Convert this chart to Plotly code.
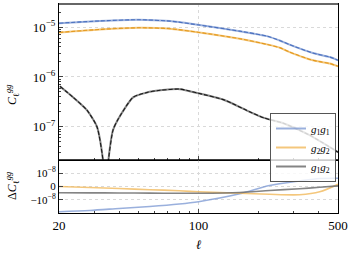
import numpy as np
import plotly.graph_objects as go

# ---------------- data ----------------
ell_auto = [20, 32, 50, 72, 101, 161, 220, 255, 286, 374, 455, 500]
cl_g1g1 = [1.20e-5, 1.33e-5, 1.41e-5, 1.32e-5, 1.10e-5, 8.3e-6, 6.6e-6, 5.4e-6, 4.45e-6, 3.02e-6, 2.51e-6, 2.16e-6]
cl_g2g2 = [7.83e-6, 9.0e-6, 9.7e-6, 9.3e-6, 7.83e-6, 5.86e-6, 4.51e-6, 3.88e-6, 3.16e-6, 2.16e-6, 1.86e-6, 1.64e-6]

ell_cross = [20.2, 23.5, 27.6, 31.0, 33.2, 34.0, 34.6, 35.4, 37.3, 39.3, 47.0, 55.2, 64.2, 81.0, 100,
             135.6, 180.5, 214.7, 264, 360, 500]
cl_g1g2 = [6.5e-7, 3.93e-7, 2.16e-7, 1.0e-7, 2.2e-8, 6e-9, -6e-9, -2.2e-8, -8.6e-8, -1.36e-7, -3.9e-7,
           -4.9e-7, -5.4e-7, -5.7e-7, -4.7e-7, -3.42e-7, -2.0e-7, -1.49e-7, -1.19e-7, -6.8e-8, -3.1e-8]

ell_diff = [20, 28.5, 40, 57, 80, 100, 161, 227, 321, 405, 500]
d_g1g1 = [-7.98e-8, -6.47e-8, -4.57e-8, -3.23e-8, -2.1e-8, -1.4e-8, -5.5e-9, 7.5e-10, 4.15e-9, 6.0e-9, 6.2e-9]
d_g2g2 = [0.0, -7.5e-10, -1.5e-9, -2.4e-9, -3.2e-9, -4.0e-9, -5.1e-9, -5.9e-9, -6.2e-9, -4.0e-9, 1.7e-9]
d_g1g2 = [-4.7e-9, -4.8e-9, -4.9e-9, -5.0e-9, -5.1e-9, -5.1e-9, -4.5e-9, -3.0e-9, -1.7e-9, -6e-10, 5e-10]

x_tick_vals = [20, 100, 500]
x_tick_text = ["20", "100", "500"]
top_tick_vals = [1e-7, 1e-6, 1e-5]
top_tick_text = ["10<sup>−7</sup>", "10<sup>−6</sup>", "10<sup>−5</sup>"]
bot_tick_vals = [1e-8, 0.0, -1e-8]
bot_tick_text = ["10<sup>−8</sup>", "0", "−10<sup>−8</sup>"]
legend_names = ["<i>g</i><sub>1</sub><i>g</i><sub>1</sub>",
                "<i>g</i><sub>2</sub><i>g</i><sub>2</sub>",
                "<i>g</i><sub>1</sub><i>g</i><sub>2</sub>"]

# ---------------- helpers ----------------
LIN = 1e-8
def symlog(v):
    v = np.asarray(v, dtype=float)
    a = np.abs(v) / LIN
    out = np.where(a <= 1, a, 1 + np.log10(np.maximum(a, 1e-30)))
    return np.sign(v) * out

FONT = "Liberation Serif"
blue_l, blue_d = "rgba(120,150,210,0.75)", "#4a70bf"
orng_l, orng_d = "rgba(240,180,80,0.75)", "#e3981c"
gray_l, gray_d = "rgba(110,110,110,0.85)", "#1a1a1a"

L, R, T, B = 59, 14, 4, 41
W, H = 352, 254
PW, PH = W - L - R, H - T - B
def px(x):
    return (x - L) / PW
def py(y):
    return (H - B - y) / PH

fig = go.Figure()
series_top = [(ell_auto, cl_g1g1, blue_l, blue_d, legend_names[0]),
              (ell_auto, cl_g2g2, orng_l, orng_d, legend_names[1]),
              (ell_cross, list(np.abs(cl_g1g2)), gray_l, gray_d, legend_names[2])]
for xx, y, cl, cd, name in series_top:
    fig.add_trace(go.Scatter(x=xx, y=y, mode="lines", name=name, showlegend=True,
                             line=dict(color=cl, width=2, shape="spline", smoothing=0.6),
                             xaxis="x", yaxis="y"))
for xx, y, cl, cd, name in series_top:
    fig.add_trace(go.Scatter(x=xx, y=y, mode="lines", showlegend=False,
                             line=dict(color=cd, width=1.1, dash="4px,2px", shape="spline", smoothing=0.6),
                             xaxis="x", yaxis="y"))

for d, cl in [(d_g1g1, blue_l), (d_g2g2, orng_l), (d_g1g2, gray_l)]:
    fig.add_trace(go.Scatter(x=ell_diff, y=symlog(d), mode="lines", showlegend=False,
                             line=dict(color=cl, width=1.6, shape="spline", smoothing=0.8),
                             xaxis="x2", yaxis="y2"))

minor_x = [30, 40, 50, 60, 70, 80, 90, 200, 300, 400]
minor_y = [m * 10.0 ** e for e in (-8, -7, -6, -5) for m in range(2, 10)]
grid = dict(showgrid=True, gridcolor="#d9d9d9", griddash="dot", gridwidth=0.8)
tf = dict(family=FONT, size=13, color="black")
tf_small = dict(family=FONT, size=11, color="black")

split = py(160)
common = dict(showline=True, linecolor="black", linewidth=1, automargin=False)
fig.update_layout(
    width=W, height=H,
    margin=dict(l=L, r=R, t=T, b=B, autoexpand=False),
    paper_bgcolor="white", plot_bgcolor="white",
    font=dict(family=FONT, size=12, color="black"),
    xaxis=dict(type="log", range=[np.log10(20), np.log10(500)], domain=[0, 1], anchor="y",
               tickvals=x_tick_vals, showticklabels=False, ticks="inside", ticklen=4,
               minor=dict(tickvals=minor_x, ticks="inside", ticklen=2, showgrid=False),
               mirror=True, **common, **grid),
    yaxis=dict(type="log", range=[-7.666, -4.536], domain=[split, 1], anchor="x",
               tickvals=top_tick_vals, ticktext=top_tick_text, tickfont=tf,
               ticks="inside", ticklen=4,
               minor=dict(tickvals=minor_y, ticks="inside", ticklen=2, showgrid=False),
               mirror=True, **common, **grid),
    xaxis2=dict(type="log", range=[np.log10(20), np.log10(500)], domain=[0, 1], anchor="y2",
                tickvals=x_tick_vals, ticktext=x_tick_text, tickfont=tf,
                ticks="inside", ticklen=4,
                minor=dict(tickvals=minor_x, ticks="inside", ticklen=2, showgrid=False),
                mirror=False, **common, **grid),
    yaxis2=dict(range=[-2, 2], domain=[0, split], anchor="x2",
                tickvals=list(symlog(bot_tick_vals)), ticktext=bot_tick_text, tickfont=tf_small,
                ticks="inside", ticklen=4, zeroline=False,
                mirror=True, **common, **grid),
    legend=dict(x=px(336), y=py(113), xanchor="right", yanchor="top",
                bgcolor="rgba(255,255,255,0.8)", bordercolor="#555", borderwidth=1,
                font=dict(family=FONT, size=11), itemwidth=30, tracegroupgap=0),
    showlegend=True,
)

fig.add_shape(type="line", xref="paper", yref="paper", x0=0, x1=1, y0=1, y1=1,
              line=dict(color="#666", width=2))
fig.add_shape(type="line", xref="paper", yref="paper", x0=0, x1=1, y0=split, y1=split,
              line=dict(color="black", width=1.5))

fig.add_annotation(text="<i>C</i><sub>ℓ</sub><sup><i>gg</i></sup>", xref="paper", yref="paper",
                   x=px(12), y=py(95), textangle=-90, showarrow=False,
                   xanchor="center", yanchor="middle", font=dict(family=FONT, size=12))
fig.add_annotation(text="Δ<i>C</i><sub>ℓ</sub><sup><i>gg</i></sup>", xref="paper", yref="paper",
                   x=px(12), y=py(186), textangle=-90, showarrow=False,
                   xanchor="center", yanchor="middle", font=dict(family=FONT, size=12))
fig.add_annotation(text="<i>ℓ</i>", xref="paper", yref="paper", x=px(199), y=py(245),
                   xanchor="center", yanchor="middle",
                   showarrow=False, font=dict(family=FONT, size=13))

fig.write_html("out.html", post_script="document.body.style.margin='0';",
               config={"displayModeBar": False})
